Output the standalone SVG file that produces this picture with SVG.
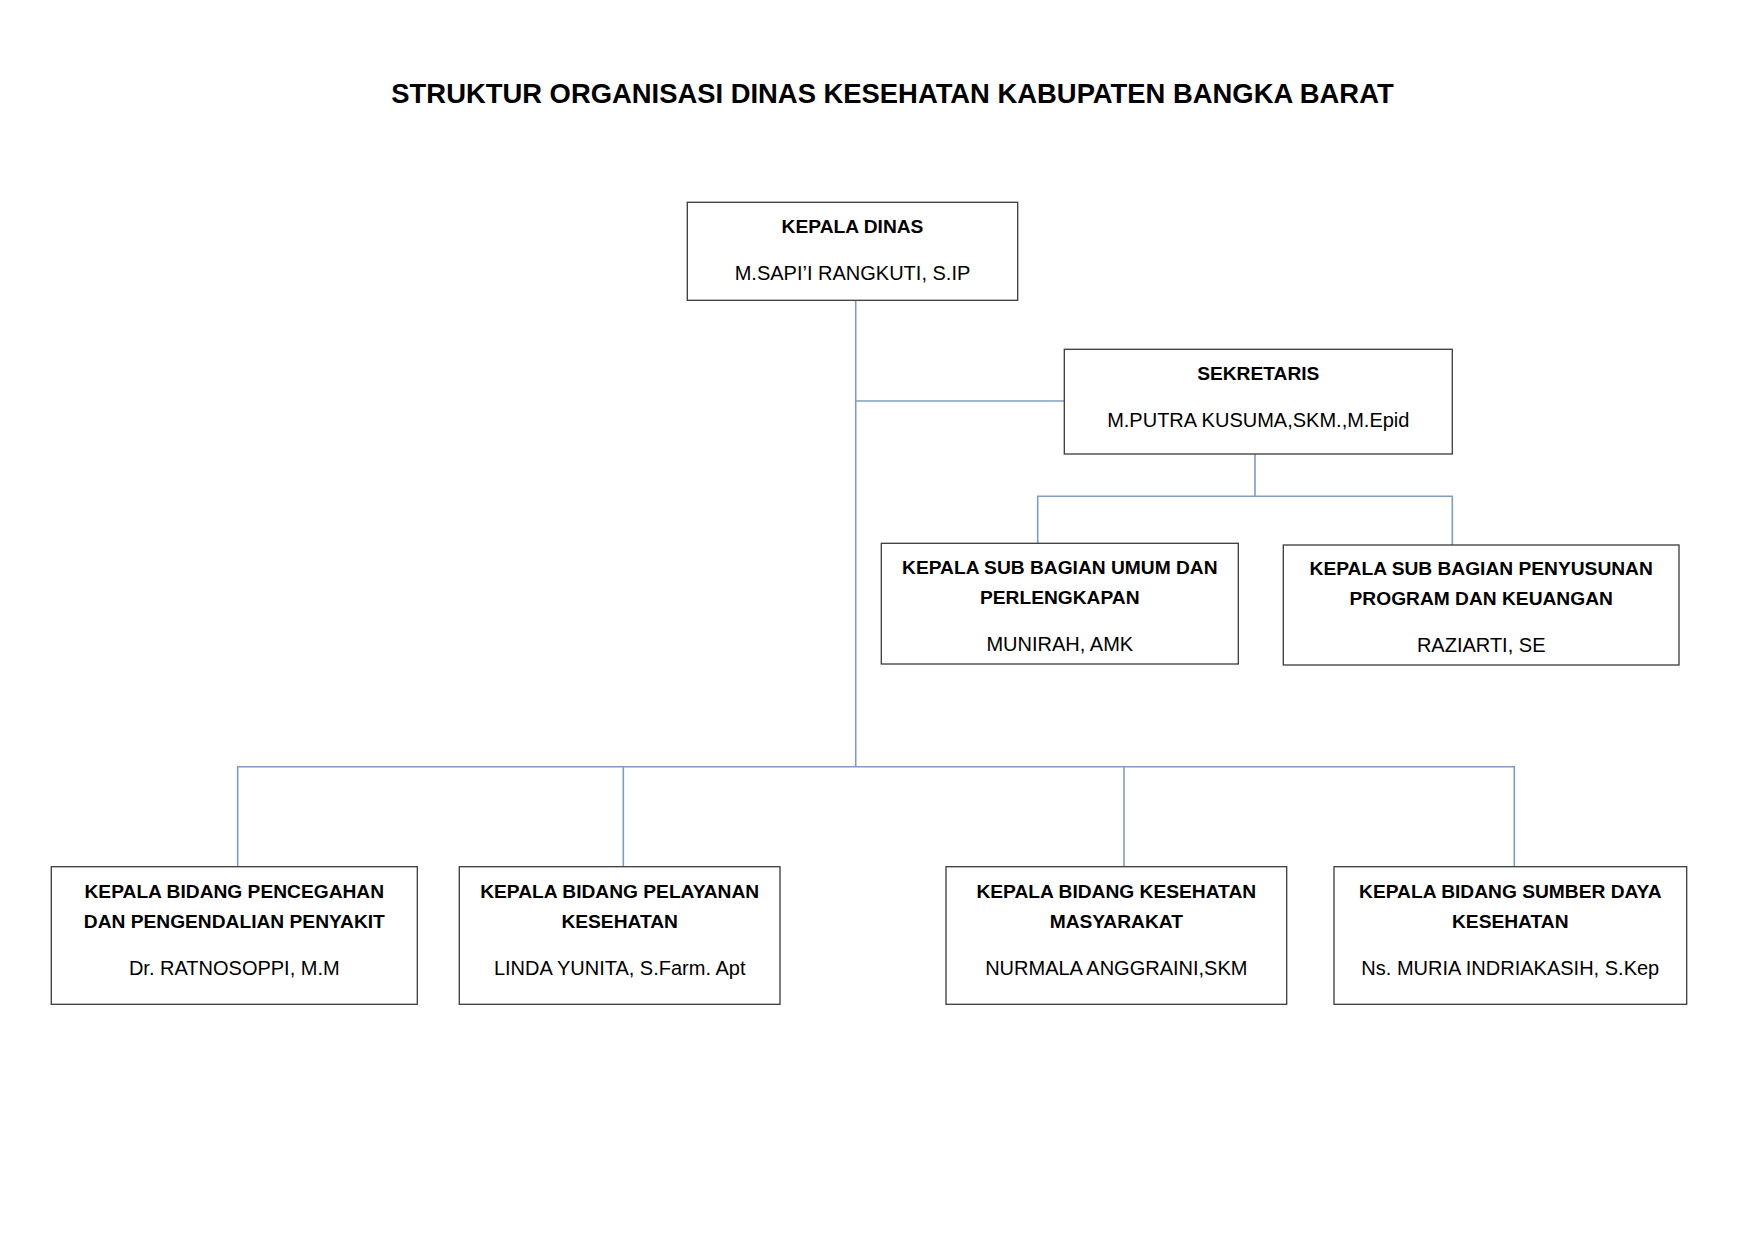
<svg xmlns="http://www.w3.org/2000/svg" width="1755" height="1240" viewBox="0 0 1755 1240">
<style>
.box{fill:#fff;stroke:#3a3a3a;stroke-width:1.3}
.con{fill:none;stroke:#7f9cc6;stroke-width:1.6}
text{font-family:"Liberation Sans",Arial,sans-serif;fill:#000;text-anchor:middle}
.b{font-weight:bold;font-size:19.2px}
.r{font-size:20px}
.title{font-weight:bold;font-size:27.4px}
</style>
<rect width="1755" height="1240" fill="#fff"/>
<text class="title" x="892.5" y="103.3">STRUKTUR ORGANISASI DINAS KESEHATAN KABUPATEN BANGKA BARAT</text>
<g id="connectors">
<path class="con" d="M855.7 300.3V766.7"/>
<path class="con" d="M855.7 401H1064.3"/>
<path class="con" d="M1255 454V496.3"/>
<path class="con" d="M1037.7 543.3V496.3H1452.3V545"/>
<path class="con" d="M237.7 866.7V766.7H1514.3V866.7"/>
<path class="con" d="M623.3 766.7V866.7"/>
<path class="con" d="M1124 766.7V866.7"/>
</g>
<g id="kepala-dinas">
<rect class="box" x="687.3" y="202.3" width="330.4" height="98"/>
<text class="b" x="852.5" y="232.5">KEPALA DINAS</text>
<text class="r" x="852.5" y="280">M.SAPI’I RANGKUTI, S.IP</text>
</g>
<g id="sekretaris">
<rect class="box" x="1064.3" y="349.3" width="388" height="104.7"/>
<text class="b" x="1258.3" y="379.5">SEKRETARIS</text>
<text class="r" x="1258.3" y="427">M.PUTRA KUSUMA,SKM.,M.Epid</text>
</g>
<g id="subbag-umum">
<rect class="box" x="881.3" y="543.3" width="357" height="120.7"/>
<text class="b" x="1059.8" y="574">KEPALA SUB BAGIAN UMUM DAN</text>
<text class="b" x="1059.8" y="604">PERLENGKAPAN</text>
<text class="r" x="1059.8" y="651">MUNIRAH, AMK</text>
</g>
<g id="subbag-program">
<rect class="box" x="1283.3" y="545" width="395.7" height="120"/>
<text class="b" x="1481.2" y="575">KEPALA SUB BAGIAN PENYUSUNAN</text>
<text class="b" x="1481.2" y="605">PROGRAM DAN KEUANGAN</text>
<text class="r" x="1481.2" y="651.7">RAZIARTI, SE</text>
</g>
<g id="bidang-p2p">
<rect class="box" x="51.3" y="866.7" width="366" height="137.6"/>
<text class="b" x="234.3" y="897.5">KEPALA BIDANG PENCEGAHAN</text>
<text class="b" x="234.3" y="927.8">DAN PENGENDALIAN PENYAKIT</text>
<text class="r" x="234.3" y="975">Dr. RATNOSOPPI, M.M</text>
</g>
<g id="bidang-pelayanan">
<rect class="box" x="459.3" y="866.7" width="320.7" height="137.6"/>
<text class="b" x="619.7" y="897.5">KEPALA BIDANG PELAYANAN</text>
<text class="b" x="619.7" y="927.8">KESEHATAN</text>
<text class="r" x="619.7" y="975">LINDA YUNITA, S.Farm. Apt</text>
</g>
<g id="bidang-kesmas">
<rect class="box" x="946" y="866.7" width="340.7" height="137.6"/>
<text class="b" x="1116.3" y="897.5">KEPALA BIDANG KESEHATAN</text>
<text class="b" x="1116.3" y="927.8">MASYARAKAT</text>
<text class="r" x="1116.3" y="975">NURMALA ANGGRAINI,SKM</text>
</g>
<g id="bidang-sdk">
<rect class="box" x="1334" y="866.7" width="352.7" height="137.6"/>
<text class="b" x="1510.3" y="897.5">KEPALA BIDANG SUMBER DAYA</text>
<text class="b" x="1510.3" y="927.8">KESEHATAN</text>
<text class="r" x="1510.3" y="975">Ns. MURIA INDRIAKASIH, S.Kep</text>
</g>
</svg>
